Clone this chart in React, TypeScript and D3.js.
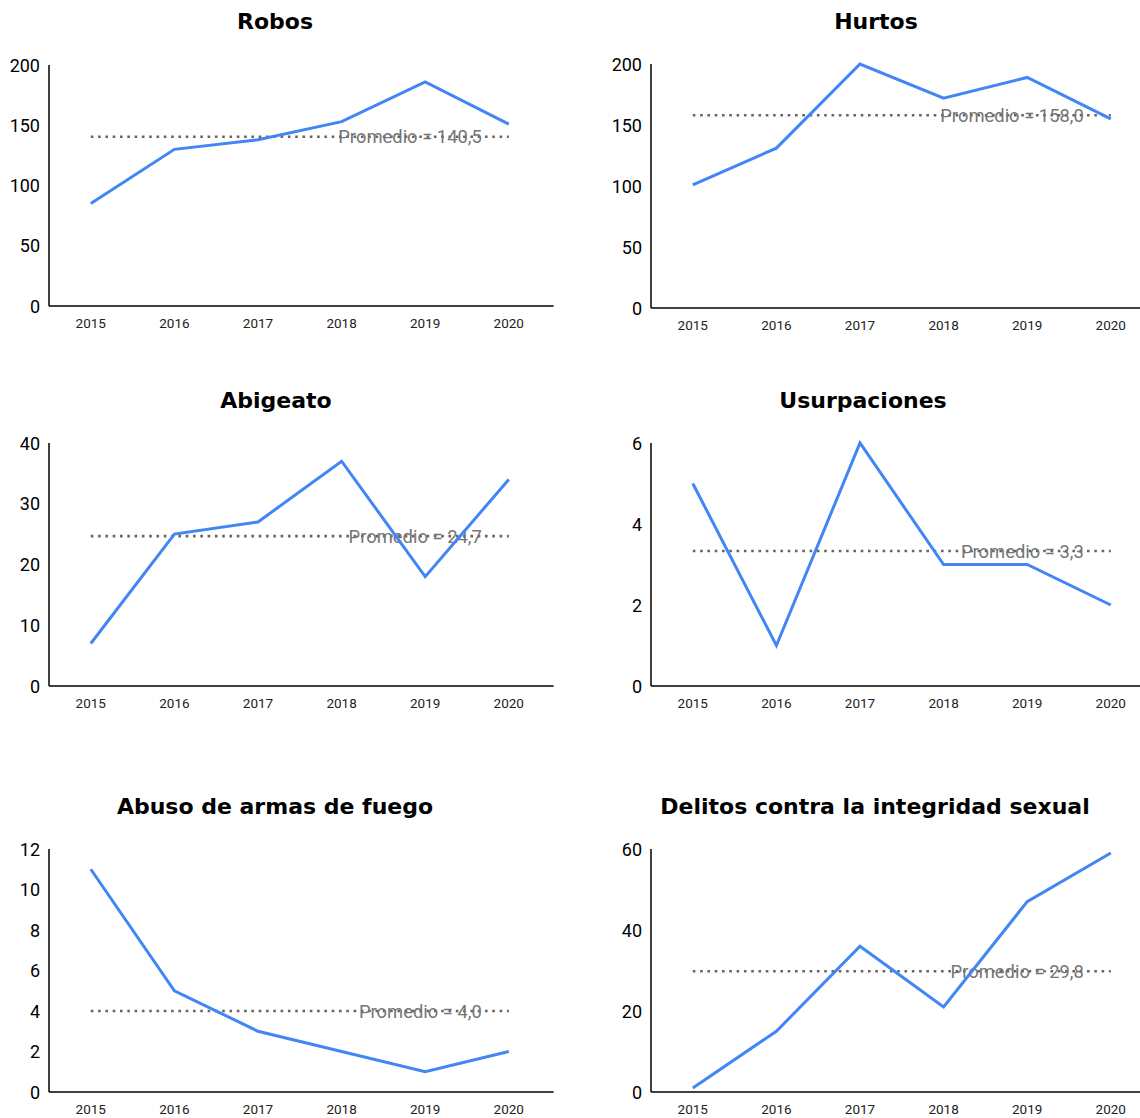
import React from "react";
import * as d3 from "d3";

const years = ["2015", "2016", "2017", "2018", "2019", "2020"];

const robos = [85, 130, 138, 153, 186, 151];
const hurtos = [101, 131, 200, 172, 189, 155];
const abigeato = [7, 25, 27, 37, 18, 34];
const usurpaciones = [5, 1, 6, 3, 3, 2];
const abuso = [11, 5, 3, 2, 1, 2];
const delitos = [1, 15, 36, 21, 47, 59];

const titles = [
  "Robos",
  "Hurtos",
  "Abigeato",
  "Usurpaciones",
  "Abuso de armas de fuego",
  "Delitos contra la integridad sexual",
];
const yMaxes = [200, 200, 40, 6, 12, 60];
const yTicks = [
  [0, 50, 100, 150, 200],
  [0, 50, 100, 150, 200],
  [0, 10, 20, 30, 40],
  [0, 2, 4, 6],
  [0, 2, 4, 6, 8, 10, 12],
  [0, 20, 40, 60],
];
const seriesList = [robos, hurtos, abigeato, usurpaciones, abuso, delitos];

type Layout = { x0: number; x1: number; top: number; bottom: number; titleX: number; titleY: number };
const layouts: Layout[] = [
  { x0: 49, x1: 550.6, top: 65, bottom: 306, titleX: 275, titleY: 21 },
  { x0: 651, x1: 1152.6, top: 64, bottom: 308, titleX: 876, titleY: 21 },
  { x0: 49, x1: 550.6, top: 443, bottom: 686, titleX: 276, titleY: 400 },
  { x0: 651, x1: 1152.6, top: 443, bottom: 686, titleX: 863, titleY: 400 },
  { x0: 49, x1: 550.6, top: 849, bottom: 1092, titleX: 275, titleY: 806 },
  { x0: 651, x1: 1152.6, top: 849, bottom: 1092, titleX: 875, titleY: 806 },
];

function formatAvg(v: number) {
  return v.toFixed(1).replace(".", ",");
}

function Panel({ idx }: { idx: number }) {
  const L = layouts[idx];
  const data = seriesList[idx];
  const x = d3.scalePoint<string>().domain(years).range([L.x0, L.x1]).padding(0.5);
  const y = d3.scaleLinear().domain([0, yMaxes[idx]]).range([L.bottom, L.top]);
  const line = d3
    .line<number>()
    .x((_, i) => x(years[i]) as number)
    .y((d) => y(d));
  const avg = d3.mean(data) as number;
  const xFirst = x(years[0]) as number;
  const xLast = x(years[years.length - 1]) as number;
  return (
    <g>
      <text
        x={L.titleX}
        y={L.titleY}
        textAnchor="middle"
        dominantBaseline="central"
        fontFamily="'DejaVu Sans', sans-serif"
        fontWeight={700}
        fontSize={22}
        fill="#000"
      >
        {titles[idx]}
      </text>
      {yTicks[idx].map((t) => (
        <text
          key={t}
          x={L.x0 - 9}
          y={y(t)}
          textAnchor="end"
          dominantBaseline="central"
          fontFamily="Roboto, sans-serif"
          fontSize={18}
          fill="#000"
        >
          {t}
        </text>
      ))}
      {years.map((yr) => (
        <text
          key={yr}
          x={x(yr)}
          y={L.bottom + 17}
          textAnchor="middle"
          dominantBaseline="central"
          fontFamily="Roboto, sans-serif"
          fontSize={13.5}
          fill="#222"
        >
          {yr}
        </text>
      ))}
      <line x1={L.x0} x2={L.x0} y1={L.top} y2={L.bottom} stroke="#000" strokeWidth={1.5} />
      <line x1={L.x0} x2={L.x1 + 3} y1={L.bottom} y2={L.bottom} stroke="#000" strokeWidth={1.5} />
      <line
        x1={xFirst}
        x2={xLast}
        y1={y(avg)}
        y2={y(avg)}
        stroke="#666"
        strokeWidth={2.6}
        strokeDasharray="2.6 4.7"
      />
      <text
        x={xLast - 27}
        y={y(avg)}
        textAnchor="end"
        dominantBaseline="central"
        fontFamily="Roboto, sans-serif"
        fontSize={18.4}
        fill="#757575"
      >
        {`Promedio = ${formatAvg(avg)}`}
      </text>
      <path d={line(data) || ""} fill="none" stroke="#4285F4" strokeWidth={3} strokeLinejoin="miter" />
    </g>
  );
}

export default function App() {
  return (
    <svg
      width={1140}
      height={1118}
      style={{ position: "absolute", left: 0, top: 0, background: "#fff" }}
    >
      <rect width={1140} height={1118} fill="#fff" />
      {layouts.map((_, i) => (
        <Panel key={i} idx={i} />
      ))}
    </svg>
  );
}
